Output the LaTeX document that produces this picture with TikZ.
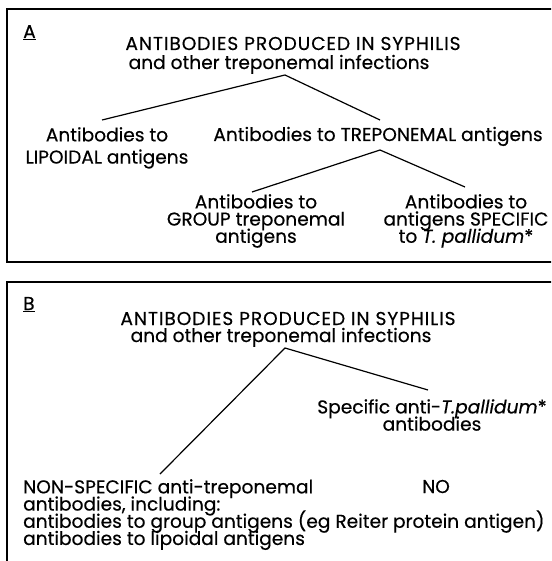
\documentclass[tikz,border=0pt]{standalone}
\usepackage{fontspec}
\setmainfont{Poppins}[FakeBold=0.4]
\newfontfamily\ttlfont{Poppins}[FakeBold=0.4,LetterSpace=5]
\begin{document}
\setlength{\lineskiplimit}{-100pt}%
\begin{tikzpicture}[x=1pt,y=-1pt,
  lbl/.style={font={\fontsize{18.6}{17.2}\selectfont}, inner sep=0pt, align=center},
  lblL/.style={font={\fontsize{18.6}{17.2}\selectfont}, inner sep=0pt, align=left},
  ttl/.style={inner sep=0pt, font={\ttlfont\fontsize{18.6}{16.2}\selectfont}},
  frame/.style={line width=1.6pt},
  conn/.style={line width=1.2pt}]
\clip (0,0) rectangle (551,561);
\fill[white] (0,0) rectangle (551,561);
% frames
\draw[frame] (560,9) -- (7,9) -- (7,262) -- (560,262);
\draw[frame] (560,282) -- (7,282) -- (7,570);
% panel A
\node[lbl, anchor=base west] (labA) at (23,38) {\underline{A}};
\node[ttl, anchor=base] (tA1) at (293,50) {ANTIBODIES PRODUCED IN SYPHILIS};
\node[lbl, anchor=base] (tA2) at (279,69) {and other treponemal infections};
\node[lbl, anchor=north] (lip) at (107,127) {Antibodies to\\[5pt]LIPOIDAL antigens};
\node[lbl, anchor=base] (trep) at (378,141) {Antibodies to TREPONEMAL antigens};
\node[lbl, anchor=north] (grp) at (256,194) {Antibodies to\\GROUP treponemal\\antigens};
\node[lbl, anchor=north] (spec) at (466,194) {Antibodies to\\antigens SPECIFIC\\to \textit{T. pallidum}*};
\coordinate (apA) at (285,75);
\coordinate (apAl) at (102,120);
\coordinate (apAr) at (380,120);
\coordinate (apT) at (380,150);
\coordinate (apTl) at (252,192);
\coordinate (apTr) at (465,187);
\draw[conn] (apAl) -- (apA) -- (apAr);
\draw[conn] (apTl) -- (apT) -- (apTr);
% panel B
\node[lbl, anchor=base west] (labB) at (23,310) {\underline{B}};
\node[ttl, anchor=base] (tB1) at (288,325) {ANTIBODIES PRODUCED IN SYPHILIS};
\node[lbl, anchor=base] (tB2) at (281,342) {and other treponemal infections};
\node[lbl, anchor=north] (spB) at (432,399) {Specific anti-\textit{T.pallidum}*\\antibodies};
\node[lblL, anchor=north west] (nsB) at (23,479) {NON-SPECIFIC anti-treponemal\\antibodies, including:\\antibodies to group antigens (eg Reiter protein antigen)\\antibodies to lipoidal antigens};
\node[lbl, anchor=base] (noB) at (436,493) {NO};
\coordinate (apB) at (285,348);
\coordinate (apBl) at (160,474);
\coordinate (apBr) at (428,390);
\draw[conn] (apBl) -- (apB) -- (apBr);
\end{tikzpicture}
\end{document}
